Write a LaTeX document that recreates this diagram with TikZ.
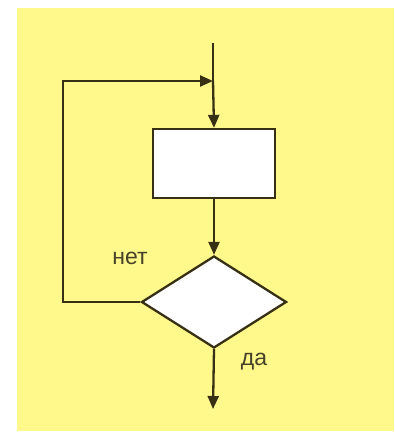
\documentclass[tikz,border=0pt]{standalone}
\usepackage{fontspec}
\setmainfont{Liberation Sans}
\usetikzlibrary{arrows.meta,shapes.geometric}
\definecolor{bgyellow}{RGB}{255,249,140}
\definecolor{lineol}{RGB}{55,48,20}
\definecolor{textcol}{RGB}{70,65,40}
\begin{document}
\begin{tikzpicture}[x=1pt,y=-1pt,
  conn/.style={draw=lineol,line width=2.3pt},
  arr/.style={conn,-{Triangle[length=13pt,width=11pt]}},
  procbox/.style={draw=lineol,line width=2.3pt,fill=white,minimum width=122pt,minimum height=69pt,inner sep=0pt},
  decbox/.style={draw=lineol,line width=2.3pt,fill=white,diamond,minimum width=145pt,minimum height=92pt,inner sep=0pt},
  lbl/.style={font=\fontsize{23}{25}\selectfont,text=textcol,inner sep=0pt}]
\useasboundingbox (0,0) rectangle (394,433);
\fill[white] (0,0) rectangle (394,433);
\fill[bgyellow] (17,8) rectangle (394,431);
\coordinate (start) at (213,43);
\coordinate (join) at (213,81);
\coordinate (lt) at (63,81);
\coordinate (lb) at (63,302);
\coordinate (stop) at (213,409);
\node[procbox] (proc) at (214,163.5) {};
\node[decbox] (dec) at (214,302) {};
\node[lbl] (no) at (130,258) {нет};
\node[lbl] (yes) at (254,362) {да};
\draw[conn] (start) -- (join);
\draw[arr] (join) -- (proc.north);
\draw[arr] (proc.south) -- (dec.north);
\draw[arr] (dec.west) -- (lb) -- (lt) -- (join);
\draw[arr] (dec.south) -- (stop);
\end{tikzpicture}
\end{document}
